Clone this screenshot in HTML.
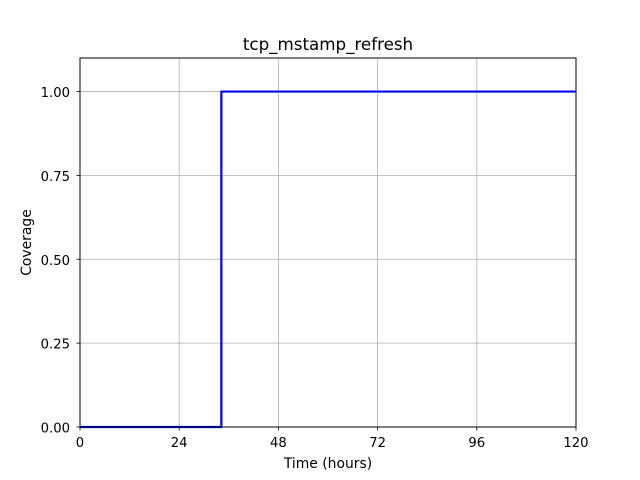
<!DOCTYPE html>
<html><head><meta charset="utf-8"><style>body{margin:0;background:#fff}svg{display:block;font-family:"DejaVu Sans","Liberation Sans",sans-serif}</style></head>
<body>
<svg id="chart" width="640" height="480">
<rect width="640" height="480" fill="#fff"/>
<text x="328" y="50" text-anchor="middle" font-size="16.7">tcp_mstamp_refresh</text>
<g id="grid"></g><g id="ticks"></g><g id="series"></g>
<rect x="80" y="58" width="496" height="369" fill="none" stroke="#000" stroke-width="1"/>
<text x="328" y="468" text-anchor="middle" font-size="13.9">Time (hours)</text>
<text transform="translate(31,242.5) rotate(-90)" text-anchor="middle" font-size="13.9">Coverage</text>
</svg>
<script>
const xTicks=[0,24,48,72,96,120];
const yTicks=[0,0.25,0.5,0.75,1.0];
const yTickLabels=["0.00","0.25","0.50","0.75","1.00"];
const stepTimes=[0,34.2,34.2,120];
const stepValues=[0,0,1,1];
const L=80,R=576,T=58,B=427,xMax=120,yMax=1.1;
const xs=v=>L+v/xMax*(R-L), ys=v=>B-v/yMax*(B-T);
const NS="http://www.w3.org/2000/svg";
function mk(t,a,p){const e=document.createElementNS(NS,t);for(const k in a)e.setAttribute(k,a[k]);p.appendChild(e);return e;}
const g=document.getElementById('grid'),tk=document.getElementById('ticks'),s=document.getElementById('series');
xTicks.forEach(v=>{const x=xs(v);
const l=mk('line',{x1:x,x2:x,y1:T,y2:B,stroke:'#b0b0b0','stroke-width':0.8},g);


const m=mk('line',{x1:x,x2:x,y1:B,y2:B+3.5,stroke:'#000','stroke-width':0.8},tk);


const t=mk('text',{x:x,y:B+20,'text-anchor':'middle','font-size':13.2},tk);t.textContent=v;

});
yTicks.forEach((v,i)=>{const y=ys(v);
const l=mk('line',{x1:L,x2:R,y1:y,y2:y,stroke:'#b0b0b0','stroke-width':0.8},g);


const m=mk('line',{x1:L-3.5,x2:L,y1:y,y2:y,stroke:'#000','stroke-width':0.8},tk);


const t=mk('text',{x:L-10,y:y+5.5,'text-anchor':'end','font-size':13.2},tk);t.textContent=yTickLabels[i];

});
const p=mk('polyline',{points:stepTimes.map((t,i)=>xs(t)+','+ys(stepValues[i])).join(' '),fill:'none',stroke:'#0000ff','stroke-width':2.2},s);


</script>
</body></html>
